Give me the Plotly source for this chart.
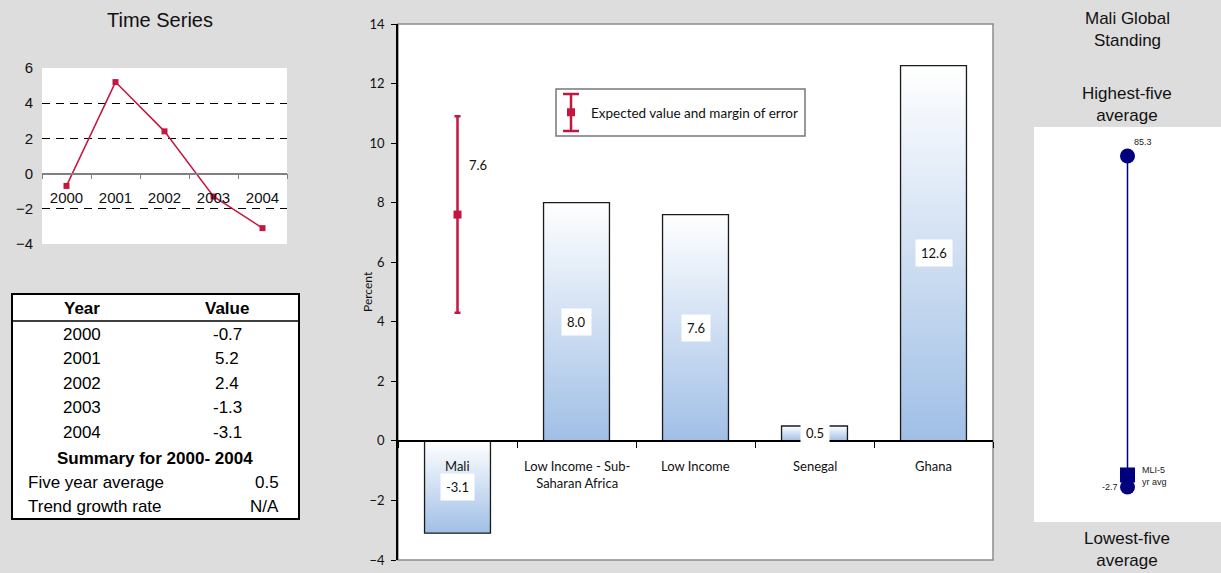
import plotly.graph_objects as go

# ---------------- data ----------------
years = ["2000", "2001", "2002", "2003", "2004"]
growth = [-0.7, 5.2, 2.4, -1.3, -3.1]
five_year_avg = 0.5
trend_growth = "N/A"

groups = ["Mali", "Low Income - Sub-<br>Saharan Africa", "Low Income", "Senegal", "Ghana"]
group_values = [-3.1, 8.0, 7.6, 0.5, 12.6]

expected_value = 7.6
margin_of_error = 3.3

highest_five = 85.3
lowest_five = -2.7

# ---------------- styling ----------------
W, H = 1221, 573
BG = "#DDDDDD"
CRIMSON = "#C41740"
NAVY = "#00007F"
BAR_BLUE = "#A0BFE6"
FONT_MAIN = "Lato, 'Liberation Sans Narrow', sans-serif"
FONT_SIDE = "Arial, 'Liberation Sans', sans-serif"


def fx(px):
    return px / W


def fy(py):
    return 1 - py / H


def paper_text(px, py, text, font, xanchor="center", yanchor="middle", **kw):
    return dict(x=fx(px), y=fy(py), xref="paper", yref="paper", showarrow=False,
                xanchor=xanchor, yanchor=yanchor, text=text, font=font, **kw)


fig = go.Figure()

# ---------------- panel 1: time series ----------------
ts_dom_y = [fy(244), fy(68)]
ts_range = [-4, 6]
ts_zero = ts_dom_y[0] + (0 - ts_range[0]) / (ts_range[1] - ts_range[0]) * (ts_dom_y[1] - ts_dom_y[0])

fig.add_trace(go.Scatter(
    x=years, y=growth, mode="lines+markers",
    line=dict(color=CRIMSON, width=1.5),
    marker=dict(symbol="square", size=6, color=CRIMSON),
    xaxis="x", yaxis="y", showlegend=False, hoverinfo="skip",
))

# ---------------- panel 2: comparison bars ----------------
main_dom_y = [fy(560), fy(24)]
main_range = [-4, 14]
main_zero = main_dom_y[0] + (0 - main_range[0]) / (main_range[1] - main_range[0]) * (main_dom_y[1] - main_dom_y[0])
half_w = 0.277

for i, v in enumerate(group_values):
    fig.add_trace(go.Scatter(
        x=[i - half_w, i + half_w, i + half_w, i - half_w, i - half_w],
        y=[0, 0, v, v, 0],
        mode="lines", fill="toself",
        fillgradient=dict(type="vertical",
                          colorscale=[[0, BAR_BLUE], [1, "#FFFFFF"]]),
        line=dict(color="#1A1A1A", width=1.3),
        xaxis="x2", yaxis="y2", showlegend=False, hoverinfo="skip",
    ))

fig.add_trace(go.Scatter(
    x=[0], y=[expected_value], mode="markers",
    marker=dict(symbol="square", size=8, color=CRIMSON),
    error_y=dict(type="data", array=[margin_of_error], symmetric=True,
                 color=CRIMSON, thickness=2.5, width=3),
    name="Expected value and margin of error",
    xaxis="x2", yaxis="y2", showlegend=True, hoverinfo="skip",
))

# ---------------- panel 3: global standing ----------------
fig.add_trace(go.Scatter(
    x=[0.5, 0.5], y=[highest_five, lowest_five], mode="lines+markers",
    line=dict(color=NAVY, width=1.5),
    marker=dict(symbol="circle", size=15, color=NAVY),
    xaxis="x3", yaxis="y3", showlegend=False, hoverinfo="skip",
))
fig.add_trace(go.Scatter(
    x=[0.5], y=[five_year_avg], mode="markers",
    marker=dict(symbol="square", size=15, color=NAVY),
    xaxis="x3", yaxis="y3", showlegend=False, hoverinfo="skip",
))

annotations = []
shapes = []

# panel 1 title
annotations.append(paper_text(160, 20, "Time Series",
                              dict(family=FONT_SIDE, size=20, color="#111")))

# panel 1 table
shapes.append(dict(type="rect", xref="paper", yref="paper",
                   x0=fx(12), x1=fx(299), y0=fy(519), y1=fy(294),
                   line=dict(color="black", width=2), fillcolor="white", layer="below"))
shapes.append(dict(type="line", xref="paper", yref="paper",
                   x0=fx(12), x1=fx(299), y0=fy(321), y1=fy(321),
                   line=dict(color="black", width=1.5)))
tfont = dict(family=FONT_SIDE, size=17, color="black")
annotations.append(paper_text(82, 308, "<b>Year</b>", tfont))
annotations.append(paper_text(227, 308, "<b>Value</b>", tfont))
for k, (yr, val) in enumerate(zip(years, growth)):
    row_y = 334 + k * 24.6
    annotations.append(paper_text(82, row_y, yr, tfont))
    annotations.append(paper_text(227, row_y, f"{val:.1f}", tfont))
annotations.append(paper_text(155, 458, f"<b>Summary for {years[0]}- {years[-1]}</b>", tfont))
annotations.append(paper_text(26, 482, "Five year average", tfont, xanchor="left"))
annotations.append(paper_text(281, 482, f"{five_year_avg:.1f}", tfont, xanchor="right"))
annotations.append(paper_text(26, 506, "Trend growth rate", tfont, xanchor="left"))
annotations.append(paper_text(281, 506, trend_growth, tfont, xanchor="right"))

# panel 2 frame
shapes.append(dict(type="rect", xref="x2 domain", yref="y2 domain",
                   x0=0, x1=1, y0=0, y1=1,
                   line=dict(color="#8C8C8C", width=1.5), layer="below"))

# panel 2 legend box with an error-bar glyph
shapes.append(dict(type="rect", xref="paper", yref="paper",
                   x0=fx(556), x1=fx(805), y0=fy(136), y1=fy(89),
                   line=dict(color="#777777", width=1.5), fillcolor="white"))
glyph_x, glyph_top, glyph_bot, cap = 571, 94, 131, 8
shapes.append(dict(type="line", xref="paper", yref="paper",
                   x0=fx(glyph_x), x1=fx(glyph_x), y0=fy(glyph_top), y1=fy(glyph_bot),
                   line=dict(color=CRIMSON, width=2.5)))
for gy in (glyph_top, glyph_bot):
    shapes.append(dict(type="line", xref="paper", yref="paper",
                       x0=fx(glyph_x - cap), x1=fx(glyph_x + cap), y0=fy(gy), y1=fy(gy),
                       line=dict(color=CRIMSON, width=2.5)))

# panel 2 value labels and group labels
mfont = dict(family=FONT_MAIN, size=13, color="#111")
for i, (g, v) in enumerate(zip(groups, group_values)):
    annotations.append(dict(x=i, y=v / 2, xref="x2", yref="y2", showarrow=False,
                            xanchor="center", yanchor="middle",
                            text=f"{v:.1f}", bgcolor="white", borderpad=5, font=mfont))
    annotations.append(dict(x=i, y=0, xref="x2", yref="y2", showarrow=False,
                            xanchor="center", yanchor="top", yshift=-15, text=g,
                            font=mfont))
annotations.append(dict(x=0, y=expected_value + margin_of_error / 2, xref="x2", yref="y2",
                        showarrow=False, xanchor="left", yanchor="middle", xshift=10,
                        text=f"{expected_value:.1f}", font=mfont))
annotations.append(paper_text(367, 292, "Percent",
                              dict(family=FONT_MAIN, size=12, color="#111"), textangle=-90))

# panel 3 texts
sfont = dict(family=FONT_SIDE, size=17, color="#111")
annotations.append(paper_text(1127, 30, "Mali Global<br>Standing", sfont))
annotations.append(paper_text(1127, 104, "Highest-five<br>average", sfont))
annotations.append(paper_text(1127, 549, "Lowest-five<br>average", sfont))
small = dict(family=FONT_SIDE, size=9, color="#222")
annotations.append(dict(x=0.5, y=highest_five, xref="x3", yref="y3", showarrow=False,
                        xanchor="center", yanchor="middle",
                        xshift=15, yshift=14, text=f"{highest_five:.1f}", font=small))
annotations.append(dict(x=0.5, y=lowest_five, xref="x3", yref="y3", showarrow=False,
                        xanchor="right", yanchor="middle", xshift=-8,
                        text=f"{lowest_five:.1f}", font=small))
annotations.append(dict(x=0.5, y=five_year_avg, xref="x3", yref="y3", showarrow=False,
                        xanchor="left", yanchor="middle", xshift=12, yshift=-1, align="left",
                        text="MLI-5<br>yr avg", font=small))

fig.update_layout(
    width=W, height=H,
    margin=dict(l=0, r=0, t=0, b=0, pad=0, autoexpand=False),
    paper_bgcolor=BG, plot_bgcolor="white",
    annotations=annotations, shapes=shapes,
    showlegend=True,
    legend=dict(x=fx(551), y=fy(112.5), xanchor="left", yanchor="middle",
                bgcolor="rgba(0,0,0,0)", borderwidth=0,
                font=dict(family=FONT_MAIN, size=13.5, color="#111"),
                itemwidth=30),
    # panel 1 axes
    xaxis=dict(domain=[fx(42), fx(287)], type="category", range=[-0.5, len(years) - 0.5],
               anchor="free", position=ts_zero, automargin=False,
               showline=True, linecolor="#808080", linewidth=1.5,
               ticks="outside", ticklen=5, tickcolor="#808080", tickson="boundaries",
               ticklabelstandoff=11, showgrid=False, zeroline=False,
               tickfont=dict(family=FONT_SIDE, size=15, color="#111")),
    yaxis=dict(domain=ts_dom_y, range=ts_range, tickvals=[-4, -2, 0, 2, 4, 6],
               showgrid=True, gridcolor="black", griddash="8px,6px", gridwidth=1,
               zeroline=False, showline=False, ticks="", ticklabelstandoff=8,
               automargin=False,
               tickfont=dict(family=FONT_SIDE, size=15, color="#111"), anchor="x"),
    # panel 2 axes
    xaxis2=dict(domain=[fx(398), fx(993)], range=[-0.5, 4.5], anchor="free", position=main_zero,
                tickvals=[i + 0.5 for i in range(-1, len(groups))], showticklabels=False,
                ticks="outside", ticklen=6, tickcolor="black", tickwidth=1,
                showline=True, linecolor="black", linewidth=1.5, automargin=False,
                showgrid=False, zeroline=False),
    yaxis2=dict(domain=main_dom_y, range=main_range, dtick=2, anchor="x2",
                showline=True, linecolor="black", linewidth=1.5,
                ticks="outside", ticklen=5, tickcolor="black", automargin=False,
                showgrid=False, zeroline=False, ticklabelstandoff=4,
                tickfont=dict(family=FONT_MAIN, size=13, color="#111")),
    # panel 3 axes
    xaxis3=dict(domain=[fx(1034), 1], range=[0, 1], visible=False, anchor="y3"),
    yaxis3=dict(domain=[fy(522), fy(127)], range=[-12, 93], visible=False, anchor="x3"),
)

# the page body should not add its default margin around the fixed-size figure
fig.write_html(
    "out.html",
    post_script="document.body.style.margin='0px'; document.body.style.overflow='hidden';",
)
